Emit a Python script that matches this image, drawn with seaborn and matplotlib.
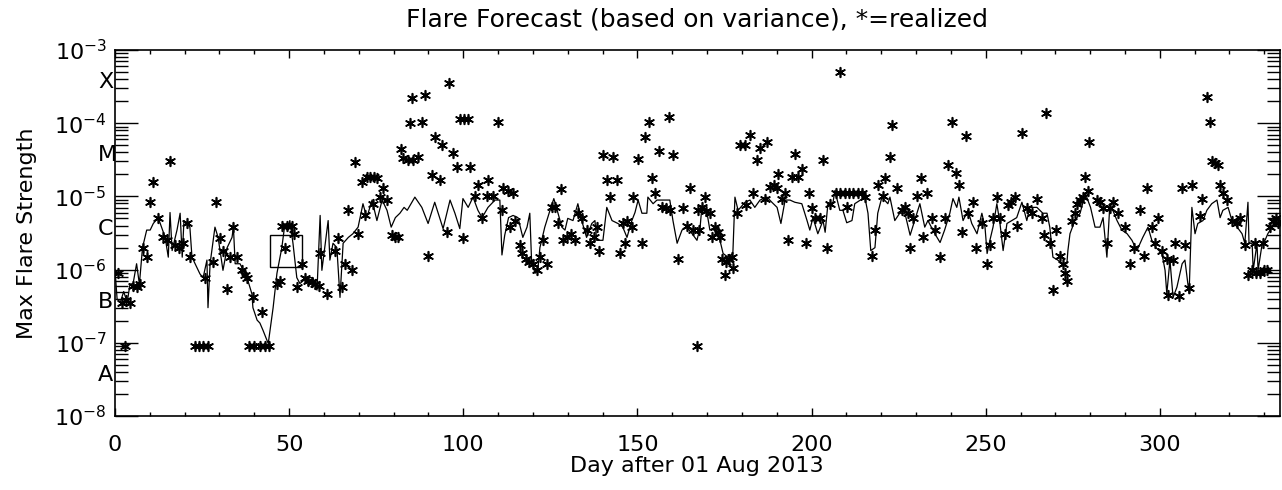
import numpy as np
import matplotlib
matplotlib.use("Agg")
import matplotlib.pyplot as plt
from matplotlib.ticker import LogLocator, NullFormatter, MultipleLocator
from matplotlib.patches import Rectangle
import seaborn as sns

# ---------------- data ----------------
# forecast line: day after 01 Aug 2013, log10 of flux (W/m^2)
forecast_day = [0, 0.6, 1.5, 2.5, 3.5, 4.3, 5.2, 6.2, 7.0, 7.9, 9.1, 10.1, 11.0, 12.4, 14.4, 15.3, 15.8, 16.4, 17.8, 18.7,
                19.3, 19.8, 20.7, 21.5, 22.1, 24.4, 25.3, 26.4, 26.7, 27.3, 28.7, 29.6, 31.0, 32.2, 33.6, 34.0, 34.5, 35.9, 37.9, 39.3,
                39.6, 40.8, 41.6, 42.5, 44.0, 45.4, 46.5, 47.9, 48.8, 49.6, 50.2, 51.1, 52.2, 53.1, 55.1, 56.8, 58.0, 58.9, 59.4, 61.2,
                61.7, 62.6, 63.7, 64.6, 65.5, 67.0, 68.3, 69.8, 71.2, 72.3, 73.8, 75.2, 76.7, 78.1, 79.3, 80.5, 81.8, 83.0, 83.9, 86.1,
                88.1, 89.9, 91.8, 92.8, 94.2, 96.2, 97.6, 99.0, 99.9, 101.4, 102.8, 104.2, 105.4, 107.1, 109.1, 110.5, 111.1, 111.9, 113.0, 114.3,
                115.7, 117.1, 118.3, 119.1, 119.6, 120.6, 121.4, 122.0, 123.4, 124.9, 126.0, 127.2, 128.3, 129.2, 130.0, 131.5, 132.9, 134.0, 135.4, 136.9,
                137.8, 138.3, 140.1, 141.2, 142.7, 144.4, 145.8, 147.0, 148.4, 149.3, 150.2, 151.3, 152.7, 153.0, 154.5, 155.6, 159.3, 160.2, 161.4, 162.8,
                164.2, 165.7, 167.1, 168.0, 168.5, 170.0, 170.8, 172.3, 173.7, 174.6, 176.0, 177.4, 178.0, 178.9, 180.9, 182.3, 183.7, 185.2, 187.2, 188.6,
                190.1, 191.2, 192.4, 193.8, 195.2, 197.2, 198.7, 199.5, 200.4, 201.8, 203.3, 203.9, 204.7, 206.1, 206.7, 208.1, 209.0, 210.1, 211.6, 212.4,
                215.3, 216.2, 217.0, 218.2, 219.0, 220.2, 221.9, 222.5, 223.9, 225.3, 226.8, 228.3, 229.6, 231.1, 232.5, 233.4, 235.4, 236.9, 238.2, 239.7,
                240.6, 241.7, 242.3, 243.5, 244.9, 246.0, 247.5, 248.9, 249.8, 250.4, 251.2, 252.1, 253.2, 254.1, 255.0, 256.1, 257.5, 258.9, 260.4, 261.8,
                262.7, 264.7, 266.4, 267.6, 268.4, 269.3, 270.7, 271.9, 273.3, 273.6, 274.2, 275.6, 277.1, 278.6, 280.1, 281.4, 282.8, 283.7, 284.8, 285.6,
                286.5, 287.7, 289.1, 290.6, 292.0, 293.4, 295.1, 296.6, 297.7, 298.9, 300.6, 301.5, 302.0, 302.9, 303.8, 304.9, 306.4, 307.2, 308.4, 309.2,
                310.1, 310.9, 312.4, 313.5, 314.9, 316.4, 317.3, 318.1, 319.6, 320.7, 322.2, 323.6, 324.4, 325.3, 325.6, 326.5, 326.8, 327.9, 328.2, 329.4,
                330.2, 331.0, 332.2, 333.6]
forecast_log = [-6.0, -6.4, -6.45, -6.3, -6.45, -6.2, -6.19, -5.92, -6.2, -5.70, -5.46, -5.46, -5.37, -5.29, -5.56, -5.83, -5.22, -5.74, -5.46, -5.23,
                -5.83, -5.33, -5.37, -5.42, -5.83, -6.06, -6.11, -5.87, -6.52, -5.92, -5.42, -5.56, -6.01, -5.70, -5.56, -5.42, -5.92, -5.92, -6.11, -6.33,
                -6.52, -6.69, -6.73, -6.83, -7.01, -6.52, -6.05, -5.70, -5.37, -5.46, -5.33, -5.64, -6.11, -6.19, -6.11, -6.11, -6.28, -5.26, -6.01, -5.33,
                -5.87, -5.64, -5.70, -6.38, -5.64, -5.56, -5.51, -5.42, -5.10, -5.29, -5.05, -5.33, -5.05, -5.19, -5.42, -5.29, -5.23, -5.15, -5.19, -5.01,
                -5.15, -5.37, -5.08, -5.23, -5.44, -5.05, -5.23, -5.44, -5.03, -5.15, -5.01, -5.19, -5.29, -5.15, -5.05, -5.05, -5.80, -5.53, -5.29, -5.26,
                -5.29, -5.56, -5.42, -5.23, -5.87, -6.05, -6.01, -5.70, -5.42, -5.19, -5.03, -5.23, -5.42, -5.46, -5.30, -5.33, -5.10, -5.33, -5.56, -5.37,
                -5.33, -5.60, -5.60, -5.15, -5.33, -5.37, -5.42, -5.56, -5.33, -5.22, -5.05, -5.23, -5.23, -5.01, -5.10, -5.05, -5.05, -5.33, -5.64, -5.46,
                -5.42, -5.51, -5.60, -5.42, -5.15, -5.23, -5.46, -5.42, -5.60, -5.78, -5.83, -5.78, -5.01, -5.19, -5.08, -5.05, -5.15, -5.05, -5.01, -5.08,
                -5.15, -5.37, -5.05, -5.05, -5.08, -5.10, -5.33, -5.46, -5.29, -5.51, -5.33, -5.49, -5.10, -5.10, -4.92, -5.19, -5.19, -5.36, -5.33, -5.10,
                -5.01, -5.23, -5.74, -5.70, -5.23, -5.01, -5.10, -5.01, -5.33, -5.23, -5.23, -5.53, -5.33, -5.10, -5.42, -5.33, -5.51, -5.63, -5.46, -5.23,
                -5.03, -5.15, -5.01, -5.33, -5.19, -5.37, -5.51, -5.23, -5.42, -5.78, -5.60, -5.42, -5.10, -5.37, -5.74, -5.37, -5.33, -5.29, -5.08, -5.33,
                -5.15, -5.15, -5.23, -5.23, -5.42, -5.83, -5.87, -5.92, -5.92, -5.74, -5.51, -5.33, -5.23, -4.96, -5.15, -5.42, -5.42, -5.29, -5.83, -5.15,
                -5.19, -5.33, -5.46, -5.51, -5.60, -5.74, -5.56, -5.42, -5.60, -5.70, -5.78, -6.01, -6.33, -5.87, -6.38, -6.24, -5.92, -5.87, -6.33, -5.15,
                -5.51, -5.37, -5.33, -5.19, -5.10, -5.05, -5.29, -5.19, -5.15, -5.33, -5.42, -5.51, -5.64, -5.08, -5.64, -5.64, -6.01, -5.64, -6.01, -5.64,
                -5.60, -5.51, -5.42, -5.33]

# realized daily maximum flare: day, log10 of flux (W/m^2)
realized_day = [0.9, 2.0, 3.2, 4.3, 2.9, 5.2, 6.3, 7.2, 8.0, 9.2,
                10.0, 10.9, 12.3, 13.8, 15.8, 14.9, 17.2, 18.4, 19.5, 20.7,
                21.5, 23.0, 24.0, 25.2, 26.6, 25.8, 28.1, 29.0, 30.1, 31.0,
                32.2, 33.9, 33.0, 35.0, 36.5, 37.3, 37.9, 39.6, 42.2, 38.5,
                40.0, 41.5, 43.0, 44.2, 46.5, 47.4, 48.8, 47.9, 49.4, 50.8,
                51.5, 53.7, 52.3, 54.5, 55.5, 56.5, 57.5, 58.5, 60.9, 58.9,
                63.2, 64.0, 65.2, 66.0, 68.0, 66.9, 68.9, 69.8, 70.9, 72.4,
                73.2, 74.4, 75.2, 71.8, 74.1, 76.9, 76.1, 78.1, 79.5, 80.4,
                81.3, 82.1, 82.7, 84.1, 85.6, 87.0, 84.6, 85.3, 88.1, 89.0,
                89.9, 91.9, 93.9, 91.0, 93.3, 97.0, 95.9, 98.2, 99.1, 100.2,
                101.3, 101.9, 95.3, 99.9, 103.4, 104.2, 107.1, 106.8, 108.5, 105.4,
                110.0, 111.4, 112.8, 114.3, 111.1, 113.3, 114.8, 116.3, 116.9, 118.0,
                118.9, 120.0, 121.2, 122.0, 124.0, 122.9, 125.5, 126.3, 128.1, 127.2,
                128.6, 129.8, 130.9, 132.1, 132.9, 134.1, 135.5, 136.4, 137.5, 138.4,
                139.0, 140.1, 143.0, 141.3, 144.1, 142.1, 145.0, 145.9, 147.0, 148.4,
                146.5, 148.7, 150.2, 151.3, 152.2, 153.3, 154.2, 155.0, 156.2, 159.1,
                160.2, 157.0, 158.2, 159.3, 161.6, 163.1, 165.1, 164.2, 165.9, 167.1,
                167.4, 167.8, 168.5, 169.7, 170.8, 169.4, 171.4, 172.3, 173.1, 173.7,
                174.3, 175.4, 176.3, 177.1, 175.1, 177.4, 178.6, 179.4, 180.9, 182.3,
                181.3, 183.2, 184.3, 185.2, 187.2, 186.6, 188.1, 189.2, 190.1, 190.4,
                191.5, 192.4, 193.2, 194.4, 195.2, 196.1, 197.2, 198.4, 199.3, 200.1,
                201.0, 202.4, 203.3, 204.4, 205.3, 208.2, 207.0, 208.3, 209.5, 210.8,
                212.0, 213.3, 214.5, 210.2, 215.3, 217.3, 218.2, 219.1, 221.1, 220.5,
                222.5, 223.1, 224.5, 226.0, 226.8, 227.7, 228.3, 229.1, 230.3, 231.4,
                232.0, 233.1, 234.6, 235.4, 236.9, 238.3, 239.2, 240.3, 241.5, 242.3,
                243.2, 244.3, 244.9, 246.3, 247.2, 248.9, 250.4, 251.2, 252.1, 253.2,
                254.1, 255.5, 256.4, 257.2, 258.4, 259.0, 260.4, 261.8, 263.3, 264.7,
                266.1, 266.8, 267.3, 268.4, 270.2, 269.3, 271.3, 272.2, 272.8, 273.3,
                274.8, 275.6, 276.2, 277.1, 277.9, 278.5, 279.8, 279.4, 281.9, 282.8,
                283.7, 284.8, 286.5, 285.8, 288.0, 290.0, 291.4, 292.6, 294.3, 295.4,
                296.3, 297.7, 298.6, 299.5, 300.6, 302.0, 302.3, 303.8, 304.3, 305.5,
                306.3, 307.2, 308.4, 309.2, 311.5, 312.1, 313.5, 314.4, 315.0, 315.8,
                316.7, 317.3, 318.1, 319.3, 320.7, 322.1, 323.0, 324.4, 325.3, 326.4,
                327.6, 328.7, 329.9, 330.8, 327.3, 329.6, 331.6, 332.5, 333.3, 333.9]
realized_log = [-6.04, -6.45, -6.42, -6.45, -7.04, -6.22, -6.24, -6.20, -5.70, -5.83,
                -5.07, -4.81, -5.30, -5.55, -4.52, -5.60, -5.67, -5.71, -5.64, -5.36,
                -5.83, -7.04, -7.04, -7.04, -7.04, -6.12, -5.90, -5.07, -5.57, -5.74,
                -6.27, -5.42, -5.83, -5.83, -6.01, -6.07, -6.11, -6.38, -6.58, -7.04,
                -7.04, -7.04, -7.04, -7.04, -6.19, -6.15, -5.71, -5.41, -5.41, -5.41,
                -5.51, -5.92, -6.24, -6.12, -6.15, -6.17, -6.19, -6.22, -6.33, -5.78,
                -5.74, -5.57, -6.24, -5.92, -6.01, -5.19, -4.53, -5.51, -4.81, -4.74,
                -4.74, -4.73, -4.75, -5.26, -5.10, -4.89, -5.01, -5.05, -5.53, -5.56,
                -5.55, -4.35, -4.48, -4.50, -4.50, -4.46, -4.00, -3.66, -3.98, -3.61,
                -5.82, -4.19, -4.30, -4.71, -4.78, -4.41, -3.45, -4.60, -3.94, -3.94,
                -3.94, -4.60, -5.49, -5.57, -4.99, -4.85, -4.78, -4.99, -4.99, -5.29,
                -3.99, -4.89, -4.92, -4.96, -5.19, -5.42, -5.33, -5.67, -5.78, -5.85,
                -5.90, -5.92, -6.01, -5.83, -5.92, -5.60, -5.15, -5.15, -4.90, -5.37,
                -5.60, -5.55, -5.51, -5.60, -5.22, -5.30, -5.46, -5.64, -5.56, -5.42,
                -5.74, -4.44, -4.46, -4.78, -4.78, -5.01, -5.77, -5.37, -5.33, -5.42,
                -5.64, -5.01, -4.49, -5.64, -4.19, -3.99, -4.75, -4.95, -4.38, -3.92,
                -4.44, -5.15, -5.16, -5.19, -5.85, -5.16, -4.88, -5.40, -5.46, -7.04,
                -5.19, -5.46, -5.15, -5.20, -5.23, -5.01, -5.56, -5.42, -5.49, -5.56,
                -5.85, -5.90, -5.86, -5.83, -6.08, -5.98, -5.22, -4.30, -4.30, -4.16,
                -5.12, -4.96, -4.50, -4.34, -4.26, -5.04, -4.87, -4.84, -4.89, -4.70,
                -5.03, -4.96, -5.59, -4.74, -4.42, -4.74, -4.62, -5.63, -4.96, -5.16,
                -5.30, -5.30, -4.50, -5.71, -5.10, -3.30, -4.95, -4.95, -4.95, -4.95,
                -4.95, -4.95, -4.95, -5.15, -5.01, -5.81, -5.46, -4.85, -4.75, -4.99,
                -4.46, -4.02, -4.89, -5.18, -5.15, -5.23, -5.70, -5.30, -4.99, -4.75,
                -5.56, -4.96, -5.29, -5.46, -5.83, -5.30, -4.57, -3.99, -4.68, -4.84,
                -5.49, -4.17, -5.23, -5.07, -5.71, -5.37, -5.92, -5.67, -5.30, -5.01,
                -5.29, -5.51, -5.12, -5.07, -5.01, -5.40, -4.13, -5.16, -5.23, -5.03,
                -5.29, -5.53, -3.86, -5.63, -5.46, -6.28, -5.81, -5.92, -6.04, -6.15,
                -5.33, -5.23, -5.10, -5.05, -5.01, -4.74, -4.26, -4.92, -5.05, -5.08,
                -5.16, -5.64, -5.08, -5.16, -5.23, -5.42, -5.92, -5.70, -5.19, -5.81,
                -4.88, -5.42, -5.64, -5.30, -5.75, -5.85, -6.35, -5.87, -5.63, -6.36,
                -4.88, -5.67, -6.25, -4.84, -5.27, -5.03, -3.64, -3.99, -4.51, -4.55,
                -4.57, -4.84, -4.95, -5.05, -5.33, -5.37, -5.29, -5.67, -6.08, -6.01,
                -6.04, -6.04, -6.01, -6.01, -5.64, -5.64, -5.42, -5.33, -5.29, -5.37]

# GOES class letters, placed at mid-decade
class_letters = ["X", "M", "C", "B", "A"]
class_values = [3e-4, 3e-5, 3e-6, 3e-7, 3e-8]

# highlighted box (days, flux)
box_days = [44.5, 53.7]
box_flux = [1.1e-6, 3.0e-6]

title_text = "Flare Forecast (based on variance), *=realized"
xlabel_text = "Day after 01 Aug 2013"
ylabel_text = "Max Flare Strength"
x_limits = [0, 334.5]
y_limits = [1e-8, 1e-3]

# ---------------- plotting ----------------
sns.set_style("ticks")
plt.rcParams["font.family"] = ["DejaVu Sans"]
plt.rcParams["mathtext.fontset"] = "dejavusans"
plt.rcParams["text.color"] = "black"
plt.rcParams["axes.labelcolor"] = "black"
plt.rcParams["xtick.color"] = "black"
plt.rcParams["ytick.color"] = "black"

W, H = 1282, 490
fig = plt.figure(figsize=(W / 100, H / 100), dpi=100)
fig.patch.set_facecolor("white")
ax = fig.add_axes([115 / W, 1 - 416 / H, (1280 - 115) / W, (416 - 50) / H])
ax.set_facecolor("white")

forecast_vals = 10.0 ** np.array(forecast_log)
realized_vals = 10.0 ** np.array(realized_log)

ax.set_yscale("log")
sns.lineplot(x=np.array(forecast_day), y=forecast_vals, sort=False, estimator=None,
             color="black", linewidth=0.9, ax=ax)
sns.scatterplot(x=np.array(realized_day), y=realized_vals, marker=(6, 2, 0), s=48,
                color="black", linewidth=1.2, ax=ax, zorder=3)

ax.add_patch(Rectangle((box_days[0], box_flux[0]), box_days[1] - box_days[0],
                       box_flux[1] - box_flux[0], fill=False, edgecolor="black", linewidth=1.0))

ax.set_xlim(*x_limits)
ax.set_ylim(*y_limits)

ax.xaxis.set_major_locator(MultipleLocator(50))
ax.xaxis.set_minor_locator(MultipleLocator(10))
ax.yaxis.set_major_locator(LogLocator(base=10, numticks=20))
ax.yaxis.set_minor_locator(LogLocator(base=10, subs=np.arange(2, 10), numticks=100))
ax.yaxis.set_minor_formatter(NullFormatter())

ax.tick_params(axis="y", which="major", direction="in", length=16.5, width=1.0,
               left=True, right=True, pad=6, labelsize=16, colors="black")
ax.tick_params(axis="y", which="minor", direction="in", length=9.5, width=1.0,
               left=True, right=True)
ax.tick_params(axis="x", which="major", direction="in", length=5.5, width=1.0,
               top=True, bottom=True, pad=14, labelsize=16, colors="black")
ax.tick_params(axis="x", which="minor", direction="in", length=3, width=1.0,
               top=True, bottom=True)
for s in ax.spines.values():
    s.set_linewidth(1.2)
    s.set_color("black")
    s.set_visible(True)

ax.set_xlabel("")
ax.set_ylabel("")
fig.text(697 / W, 1 - 20 / H, title_text, ha="center", va="center", fontsize=18, color="black")
fig.text(697 / W, 1 - 466 / H, xlabel_text, ha="center", va="center", fontsize=16, color="black")
fig.text(27 / W, 1 - 233 / H, ylabel_text, ha="center", va="center", rotation=90,
         fontsize=16, color="black")

for lab, val in zip(class_letters, class_values):
    ax.annotate(lab, xy=(0, val), xycoords=("axes fraction", "data"),
                xytext=(-17 * 0.72, 0), textcoords="offset points",
                ha="left", va="baseline", fontsize=16, color="black")

fig.savefig("out.png", dpi=100, facecolor="white")
